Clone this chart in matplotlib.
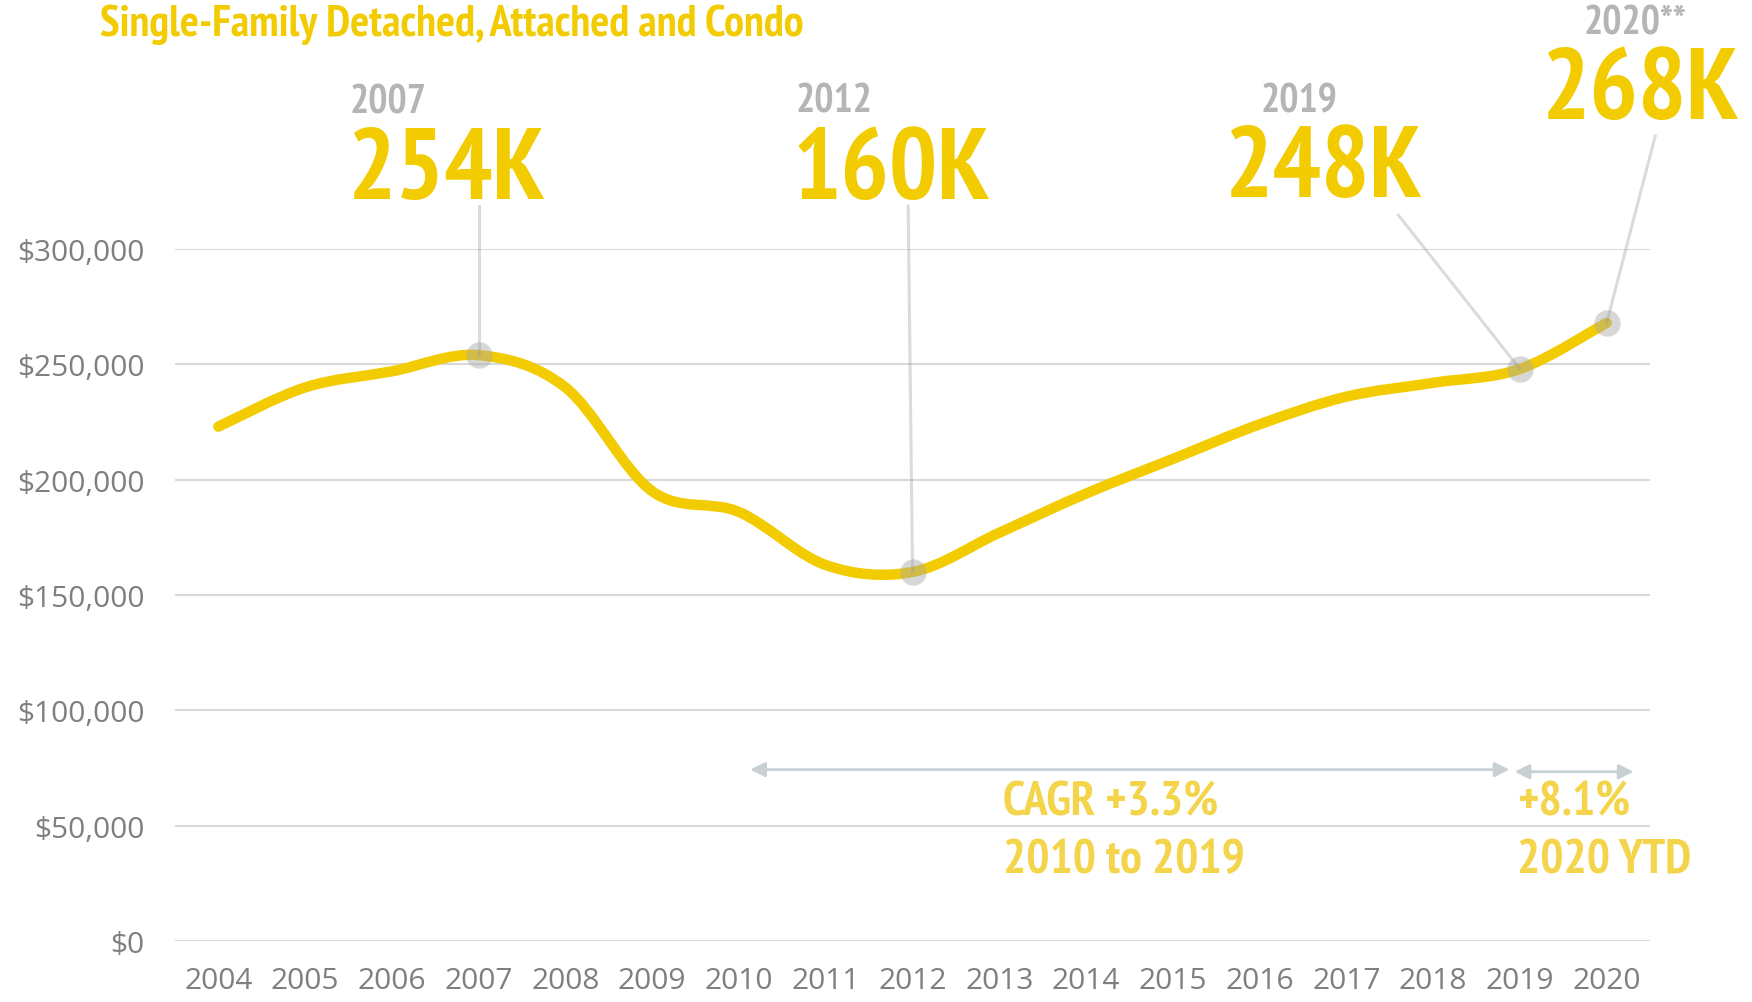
import numpy as np
import matplotlib
matplotlib.use('Agg')
import matplotlib.pyplot as plt
from matplotlib import font_manager
from matplotlib.path import Path
from matplotlib.patches import PathPatch

years = list(range(2004, 2021))
prices = [223000, 240000, 247000, 254000, 240000, 195000, 186000, 163000, 160000,
          177000, 194000, 209000, 224000, 236000, 242000, 248000, 268000]
y_ticks = [0, 50000, 100000, 150000, 200000, 250000, 300000]
y_labels = ['$0', '$50,000', '$100,000', '$150,000', '$200,000', '$250,000', '$300,000']

callout_years = [2007, 2012, 2019, 2020]
callout_values = [254000, 160000, 248000, 268000]
callout_year_text = ['2007', '2012', '2019', '2020**']
callout_big_text = ['254K', '160K', '248K', '268K']

YELLOW = '#F2CB00'
LIGHT_YELLOW = '#F3D44B'
GRAY_TXT = '#7F7F7F'
GRAY_YEAR = '#B5B5B5'
GRID = '#D9D9D9'
ARROW = '#C8D0D4'


# look for a narrow *bold* face; fall back to Liberation Sans bold
def wnum(w):
    if isinstance(w, (int, float)):
        return w
    return font_manager.weight_dict.get(w, 400)


best = None
for f in font_manager.fontManager.ttflist:
    if wnum(f.weight) < 600 or f.style != 'normal':
        continue
    score = 0
    if 'Narrow' in f.name:
        score = 3
    elif 'Condensed' in f.name and 'Semi' not in f.name:
        score = 2
    elif f.stretch in ('condensed', 'extra-condensed', 'semi-condensed'):
        score = 1
    if score and (best is None or score > best[0]
                  or (score == best[0] and abs(wnum(f.weight) - 700) < abs(wnum(best[1].weight) - 700))):
        best = (score, f)
if best:
    FONT = dict(family=[best[1].name, 'DejaVu Sans'], fontweight=best[1].weight,
                fontstretch=best[1].stretch)
else:
    FONT = dict(family=['Liberation Sans', 'DejaVu Sans'], fontweight='bold')

fig = plt.figure(figsize=(17.52, 10.03), dpi=100)
ax = fig.add_axes([0.0999, 0.0608, 0.8419, 0.6899])
ax.set_xlim(2003.5, 2020.5)
ax.set_ylim(0, 300000)
renderer = fig.canvas.get_renderer()


def fit(t, width_px, max_size):
    # scale text so its width is about the reference width
    bb = t.get_window_extent(renderer)
    size = t.get_fontsize() * width_px / bb.width
    t.set_fontsize(min(size, max_size))


# smoothed line (catmull-rom as bezier segments)
pts = np.column_stack([years, prices]).astype(float)
verts = [pts[0]]
codes = [Path.MOVETO]
n = len(pts)
for i in range(n - 1):
    p0 = pts[max(i - 1, 0)]
    p1 = pts[i]
    p2 = pts[i + 1]
    p3 = pts[min(i + 2, n - 1)]
    verts += [p1 + (p2 - p0) / 6, p2 - (p3 - p1) / 6, p2]
    codes += [Path.CURVE4] * 3
ax.add_patch(PathPatch(Path(verts, codes), facecolor='none', edgecolor=YELLOW,
                       lw=7.5, capstyle='round', joinstyle='round', zorder=3))

ax.set_yticks(y_ticks)
ax.set_yticklabels(y_labels)
ax.set_xticks(years)
ax.set_xticklabels([str(y) for y in years])
ax.grid(axis='y', color=GRID, lw=1.5)
ax.set_axisbelow(True)
for s in ax.spines.values():
    s.set_visible(False)
ax.tick_params(length=0, labelcolor=GRAY_TXT, labelsize=21.5)
ax.tick_params(axis='y', pad=22)
ax.tick_params(axis='x', pad=18)
for lab in ax.get_xticklabels() + ax.get_yticklabels():
    lab.set_fontfamily('Open Sans')

# callouts
year_pos = [(2005.96, 359000), (2011.09, 359500), (2016.46, 359500), (2020.33, 393500)]
year_w = [80, 79, 77, 118]
big_pos = [(2006.62, 322000), (2011.76, 322000), (2016.73, 323000), (2020.38, 356800)]
big_w = [220, 207, 216, 218]
leader_top = [(2007.0, 318600), (2011.95, 318600), (2017.6, 314700), (2020.56, 349000)]
for i in range(len(callout_years)):
    t = ax.text(year_pos[i][0], year_pos[i][1], callout_year_text[i], ha='center',
                va='baseline', fontsize=27, color=GRAY_YEAR, **FONT)
    fit(t, year_w[i], 29)
    t = ax.text(big_pos[i][0], big_pos[i][1], callout_big_text[i], ha='center',
                va='baseline', fontsize=72, color=YELLOW, **FONT)
    fit(t, big_w[i], 73)
    ax.plot([leader_top[i][0], callout_years[i]], [leader_top[i][1], callout_values[i]],
            color='#9A9A9A', alpha=0.35, lw=2.2, clip_on=False, zorder=5)
    ax.plot(callout_years[i], callout_values[i], 'o', ms=19, color='#A8A8A8', alpha=0.45,
            mec='none', clip_on=False, zorder=4)

# growth arrows
ax.annotate('', xy=(2018.88, 74300), xytext=(2010.13, 74300),
            arrowprops=dict(arrowstyle='<|-|>', color=ARROW, lw=2, mutation_scale=22,
                            shrinkA=0, shrinkB=0))
ax.annotate('', xy=(2020.31, 73400), xytext=(2018.94, 73400),
            arrowprops=dict(arrowstyle='<|-|>', color=ARROW, lw=2, mutation_scale=22,
                            shrinkA=0, shrinkB=0))
growth = [('CAGR +3.3%', 2013.04, 55000, 230), ('2010 to 2019', 2013.04, 29900, 246),
          ('+8.1%', 2018.97, 55000, 116), ('2020 YTD', 2018.97, 29900, 176)]
for txt, gx, gy, gw in growth:
    t = ax.text(gx, gy, txt, ha='left', va='baseline', fontsize=32,
                color=LIGHT_YELLOW, **FONT)
    fit(t, gw, 35)

t = fig.text(100 / 1752, 0.964, 'Single-Family Detached, Attached and Condo', ha='left',
             va='baseline', fontsize=29, color=YELLOW, **FONT)
fit(t, 728, 32)

fig.savefig('out.png', dpi=100)
